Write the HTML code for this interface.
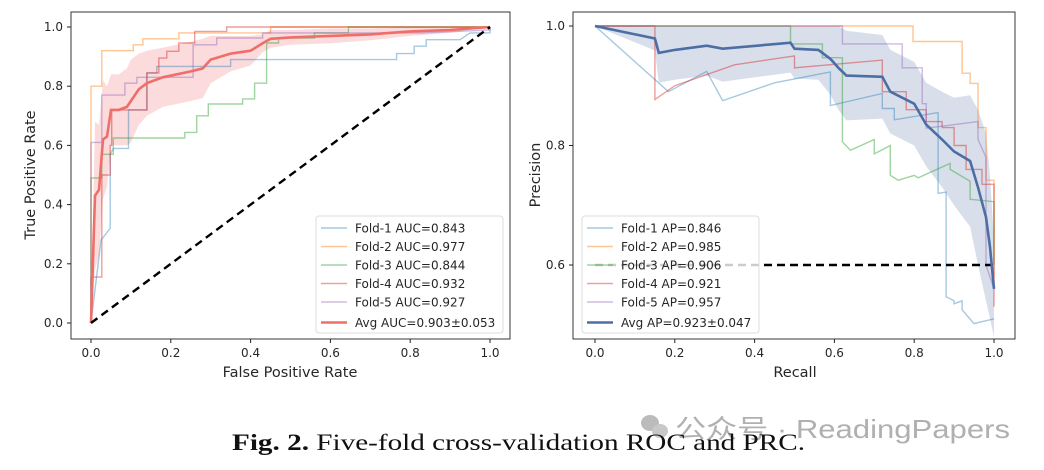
<!DOCTYPE html>
<html><head><meta charset="utf-8">
<style>
html,body{margin:0;padding:0;background:#fff;}
body{width:1044px;height:470px;overflow:hidden;position:relative;}
svg{position:absolute;left:0;top:0;}
text{font-family:"DejaVu Sans","Liberation Sans",sans-serif;fill:#262626;}
</style></head>
<body>
<svg id="chart" width="1044" height="470"></svg>
<script>
// ---------- data ----------
const rocTicks=[0,0.2,0.4,0.6,0.8,1.0];
const rocTickLabels=["0.0","0.2","0.4","0.6","0.8","1.0"];
const prYTicks=[0.6,0.8,1.0];
const prYTickLabels=["0.6","0.8","1.0"];
const rocLegend=["Fold-1 AUC=0.843","Fold-2 AUC=0.977","Fold-3 AUC=0.844","Fold-4 AUC=0.932","Fold-5 AUC=0.927","Avg AUC=0.903±0.053"];
const prLegend=["Fold-1 AP=0.846","Fold-2 AP=0.985","Fold-3 AP=0.906","Fold-4 AP=0.921","Fold-5 AP=0.957","Avg AP=0.923±0.047"];
const rocFold1=[[0,0],[0.025,0.28],[0.048,0.32],[0.048,0.57],[0.056,0.59],[0.094,0.59],[0.094,0.72],[0.14,0.72],[0.14,0.845],[0.165,0.845],[0.165,0.867],[0.35,0.867],[0.35,0.89],[0.766,0.89],[0.766,0.91],[0.81,0.91],[0.81,0.935],[0.84,0.935],[0.84,0.957],[0.925,0.957],[0.95,0.98],[1,0.98],[1,1]];
const rocFold2=[[0,0],[0,0.8],[0.027,0.8],[0.027,0.92],[0.106,0.92],[0.106,0.94],[0.13,0.94],[0.13,0.96],[0.22,0.96],[0.22,0.98],[0.45,0.98],[0.45,1],[1,1]];
const rocFold3=[[0,0],[0,0.49],[0.027,0.49],[0.027,0.57],[0.056,0.57],[0.056,0.625],[0.235,0.625],[0.235,0.644],[0.265,0.644],[0.265,0.7],[0.294,0.7],[0.294,0.74],[0.38,0.74],[0.38,0.757],[0.41,0.757],[0.41,0.81],[0.44,0.81],[0.44,0.946],[0.47,0.946],[0.47,0.963],[0.56,0.963],[0.56,0.98],[0.645,0.98],[0.645,1],[1,1]];
const rocFold4=[[0,0],[0,0.155],[0.027,0.155],[0.027,0.5],[0.048,0.5],[0.048,0.6],[0.052,0.6],[0.052,0.72],[0.094,0.72],[0.14,0.72],[0.14,0.845],[0.17,0.845],[0.17,0.895],[0.19,0.895],[0.19,0.918],[0.22,0.918],[0.22,0.946],[0.26,0.946],[0.26,0.985],[0.34,0.985],[0.34,1],[1,1]];
const rocFold5=[[0,0],[0,0.61],[0.027,0.61],[0.027,0.77],[0.085,0.77],[0.085,0.81],[0.115,0.81],[0.115,0.83],[0.256,0.83],[0.256,0.94],[0.315,0.94],[0.315,0.963],[0.43,0.963],[0.43,0.98],[0.83,0.98],[1,0.99],[1,1]];
const rocAvgX=[0,0.01,0.02,0.03,0.04,0.05,0.07,0.09,0.1,0.12,0.14,0.18,0.25,0.28,0.3,0.35,0.4,0.43,0.45,0.5,0.6,0.7,0.8,0.9,1];
const rocAvgY=[0,0.43,0.45,0.62,0.63,0.72,0.72,0.73,0.75,0.79,0.81,0.83,0.85,0.86,0.89,0.91,0.92,0.945,0.96,0.965,0.97,0.975,0.985,0.99,1];
const rocAvgStd=[0,0.25,0.22,0.2,0.17,0.12,0.12,0.13,0.14,0.12,0.11,0.1,0.1,0.1,0.08,0.06,0.05,0.03,0.03,0.025,0.025,0.02,0.015,0.01,0];
const prFold1=[[0,1],[0.184,0.89],[0.28,0.924],[0.32,0.875],[0.45,0.905],[0.59,0.923],[0.59,0.867],[0.72,0.887],[0.72,0.862],[0.75,0.862],[0.75,0.843],[0.86,0.855],[0.86,0.72],[0.88,0.722],[0.88,0.547],[0.9,0.54],[0.9,0.535],[0.92,0.54],[0.92,0.525],[0.95,0.502],[1,0.51]];
const prFold2=[[0,1],[0.797,1],[0.797,0.974],[0.92,0.974],[0.92,0.921],[0.94,0.921],[0.94,0.904],[0.96,0.904],[0.96,0.83],[0.98,0.83],[0.98,0.742],[1,0.742],[1,0.58]];
const prFold3=[[0,1],[0.49,1],[0.49,0.97],[0.57,0.97],[0.57,0.947],[0.62,0.947],[0.62,0.806],[0.64,0.792],[0.7,0.81],[0.7,0.786],[0.74,0.8],[0.74,0.75],[0.76,0.742],[0.8,0.75],[0.81,0.746],[0.89,0.77],[0.89,0.76],[0.94,0.74],[0.94,0.71],[1,0.706],[1,0.6]];
const prFold4=[[0,1],[0.15,1],[0.15,0.877],[0.2,0.9],[0.35,0.935],[0.5,0.95],[0.5,0.93],[0.72,0.943],[0.72,0.89],[0.78,0.89],[0.78,0.86],[0.83,0.86],[0.83,0.84],[0.87,0.84],[0.87,0.83],[0.9,0.83],[0.9,0.8],[0.93,0.8],[0.93,0.76],[0.97,0.76],[0.97,0.735],[1,0.735],[1,0.53]];
const prFold5=[[0,1],[0.62,1],[0.62,0.97],[0.77,0.97],[0.77,0.93],[0.82,0.93],[0.82,0.87],[0.83,0.87],[0.83,0.829],[0.96,0.84],[0.96,0.81],[0.98,0.78],[0.98,0.6],[1,0.56]];
const prAvgX=[0,0.15,0.16,0.2,0.28,0.32,0.49,0.5,0.56,0.59,0.61,0.63,0.72,0.74,0.8,0.83,0.87,0.9,0.94,0.96,0.98,0.99,1];
const prAvgY=[1,0.979,0.955,0.96,0.967,0.962,0.972,0.962,0.96,0.945,0.93,0.917,0.915,0.89,0.87,0.835,0.81,0.79,0.774,0.73,0.68,0.63,0.56];
const prAvgStd=[0,0.02,0.05,0.05,0.05,0.055,0.05,0.05,0.05,0.06,0.07,0.075,0.07,0.07,0.07,0.07,0.08,0.09,0.11,0.13,0.14,0.12,0.08];
const chance=0.6;

// ---------- helpers ----------
const NS="http://www.w3.org/2000/svg";
const svg=document.getElementById('chart');
function mk(tag,attrs,parent){const e=document.createElementNS(NS,tag);for(const k in attrs)e.setAttribute(k,attrs[k]);(parent||svg).appendChild(e);return e;}
const foldColors=["rgba(31,119,180,0.4)","rgba(255,127,14,0.45)","rgba(44,160,44,0.45)","rgba(214,39,40,0.45)","rgba(148,103,189,0.45)"];

const rx=v=>91+v*399, ry=v=>323-v*296;
const px=v=>595+v*399, py=v=>26+(1-v)*597.5;

function axesFrame(x0,y0,x1,y1,name){
  const r=mk('rect',{x:x0,y:y0,width:x1-x0,height:y1-y0,fill:'none',stroke:'#222','stroke-width':0.9});
  
  
}
function pathFrom(pts,fx,fy){return pts.map((p,i)=>(i?'L':'M')+fx(p[0]).toFixed(1)+' '+fy(p[1]).toFixed(1)).join(' ');}
function bandPath(xs,ys,sd,fx,fy,lo,hi){
  let up=xs.map((x,i)=>[x,Math.min(hi,ys[i]+sd[i])]);
  let dn=xs.map((x,i)=>[x,Math.max(lo,ys[i]-sd[i])]).reverse();
  return pathFrom(up.concat(dn),fx,fy)+'Z';
}

// ---------- ROC ----------
axesFrame(71,12,510,339,'roc-plot-area');
mk('path',{d:bandPath(rocAvgX,rocAvgY,rocAvgStd,rx,ry,0,1),fill:'rgba(240,110,110,0.25)',stroke:'none'});
[rocFold1,rocFold2,rocFold3,rocFold4,rocFold5].forEach((f,i)=>{
  const p=mk('path',{d:pathFrom(f,rx,ry),fill:'none',stroke:foldColors[i],'stroke-width':1.4});
  
  
});
const ravg=mk('path',{d:pathFrom(rocAvgX.map((x,i)=>[x,rocAvgY[i]]),rx,ry),fill:'none',stroke:'#ee6f6a','stroke-width':2.6});


const diag=mk('line',{x1:rx(0),y1:ry(0),x2:rx(1),y2:ry(1),stroke:'#000','stroke-width':2.4,'stroke-dasharray':'8,5'});


rocTicks.forEach((t,i)=>{
  mk('line',{x1:rx(t),x2:rx(t),y1:339,y2:343,stroke:'#222'});
  const tx=mk('text',{x:rx(t),y:357,'font-size':12,'text-anchor':'middle'});tx.textContent=rocTickLabels[i];
  
  
  mk('line',{x1:67,x2:71,y1:ry(t),y2:ry(t),stroke:'#222'});
  const ty=mk('text',{x:63,y:ry(t)+4,'font-size':12,'text-anchor':'end'});ty.textContent=rocTickLabels[i];
  
  
});
let t=mk('text',{x:290,y:377,'font-size':14.5,'text-anchor':'middle'});t.textContent='False Positive Rate';

t=mk('text',{x:35,y:175,'font-size':14.5,'text-anchor':'middle',transform:'rotate(-90 35 175)'});t.textContent='True Positive Rate';


function legend(x,y,w,h,labels,avgColor,name){
  const g=mk('g',{});
  
  
  mk('rect',{x:x,y:y,width:w,height:h,rx:3,fill:'rgba(255,255,255,0.8)',stroke:'#ddd'},g);
  labels.forEach((l,i)=>{
    const yy=y+12+i*18.5+(i==5?2:0);
    const c=i<5?foldColors[i]:avgColor;
    mk('line',{x1:x+5,x2:x+31,y1:yy,y2:yy,stroke:c,'stroke-width':i<5?1.4:2.6},g);
    const tt=mk('text',{x:x+39,y:yy+4.5,'font-size':12},g);tt.textContent=l;
    
    
  });
}
legend(316,216,187,117,rocLegend,'#ee6f6a','roc-legend');

// ---------- PR ----------
axesFrame(573,12,1015,339,'pr-plot-area');
mk('path',{d:bandPath(prAvgX,prAvgY,prAvgStd,px,py,0,1),fill:'rgba(76,110,165,0.22)',stroke:'none'});
[prFold1,prFold2,prFold3,prFold4,prFold5].forEach((f,i)=>{
  const p=mk('path',{d:pathFrom(f,px,py),fill:'none',stroke:foldColors[i],'stroke-width':1.4});
  
  
});
const ch=mk('line',{x1:px(0),y1:py(chance),x2:px(1),y2:py(chance),stroke:'#000','stroke-width':2.4,'stroke-dasharray':'8,5'});


legend(582,216,177,117,prLegend,'#4c6ea5','pr-legend');
const pavg=mk('path',{d:pathFrom(prAvgX.map((x,i)=>[x,prAvgY[i]]),px,py),fill:'none',stroke:'#4c6ea5','stroke-width':2.6});


rocTicks.forEach((t,i)=>{
  mk('line',{x1:px(t),x2:px(t),y1:339,y2:343,stroke:'#222'});
  const tx=mk('text',{x:px(t),y:357,'font-size':12,'text-anchor':'middle'});tx.textContent=rocTickLabels[i];
  
  
});
prYTicks.forEach((t,i)=>{
  mk('line',{x1:569,x2:573,y1:py(t),y2:py(t),stroke:'#222'});
  const ty=mk('text',{x:565,y:py(t)+4,'font-size':12,'text-anchor':'end'});ty.textContent=prYTickLabels[i];
  
  
});
t=mk('text',{x:795,y:377,'font-size':14.5,'text-anchor':'middle'});t.textContent='Recall';

t=mk('text',{x:540,y:175,'font-size':14.5,'text-anchor':'middle',transform:'rotate(-90 540 175)'});t.textContent='Precision';


// ---------- caption / watermark ----------
const wm=mk('g',{});


mk('ellipse',{cx:650,cy:423,rx:9,ry:8,fill:'#bbb'},wm);
mk('ellipse',{cx:660,cy:431,rx:8,ry:7,fill:'#c8c8c8'},wm);
t=mk('text',{x:675,y:438,'font-size':26,textLength:335,lengthAdjust:'spacingAndGlyphs',style:'fill:#b0b0b0;font-family:"Liberation Sans","Noto Sans CJK SC",sans-serif'},wm);t.textContent='公众号 · ReadingPapers';
const cap=mk('text',{x:232,y:450,'font-size':23,textLength:573,lengthAdjust:'spacingAndGlyphs',style:'fill:#111;font-family:"Liberation Serif",serif'});


const b=mk('tspan',{'font-weight':'bold'},cap);b.textContent='Fig. 2.';
const r=mk('tspan',{},cap);r.textContent=' Five-fold cross-validation ROC and PRC.';
</script>
</body></html>
